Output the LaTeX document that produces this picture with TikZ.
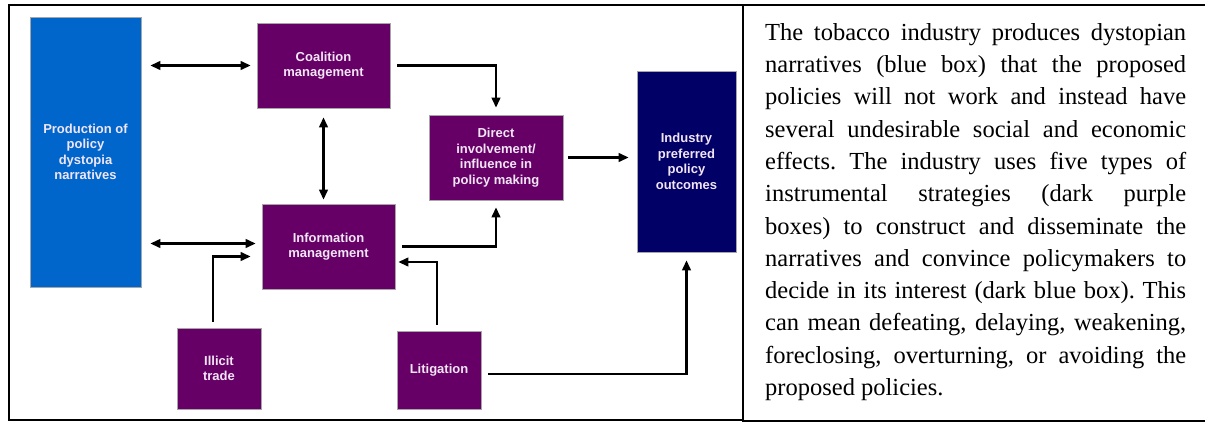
\documentclass[tikz,border=0pt]{standalone}
\usepackage{fontspec}
\setmainfont{Liberation Serif}
\newfontfamily\boxfont{Liberation Sans}
\usetikzlibrary{arrows.meta}
\definecolor{stratpurple}{RGB}{102,0,102}
\definecolor{narrblue}{RGB}{0,102,204}
\definecolor{outnavy}{RGB}{0,0,102}
\definecolor{boxtext}{RGB}{242,230,246}

\begin{document}
\begin{tikzpicture}[x=1pt,y=-1pt,
    box/.style={draw=gray!70,line width=0.6pt,text=boxtext,align=center,inner sep=0pt,
      font=\boxfont\bfseries\fontsize{13}{15.5}\selectfont},
    strat/.style={box,fill=stratpurple},
    flow/.style={line width=2.3pt,-{Triangle[length=10pt,width=8.5pt]}},
    both/.style={line width=2.3pt,{Triangle[length=10pt,width=8.5pt]}-{Triangle[length=10pt,width=8.5pt]}}]
    \useasboundingbox (0,0) rectangle (1205,423);
    \draw[line width=2.5pt] (1205,5)--(9,5)--(9,420)--(743,420);
    \draw[line width=2pt] (743,5)--(743,421)--(1205,421);

    \node[box,fill=narrblue,minimum width=111pt,minimum height=270pt] (dystopia) at (85.5,152) {Production of\\policy\\dystopia\\narratives};
    \node[strat,minimum width=133pt,minimum height=85pt] (coalition) at (323.5,65.5) {Coalition\\management};
    \node[strat,minimum width=133pt,minimum height=85pt] (info) at (328.5,246.5) {Information\\management};
    \node[strat,minimum width=134pt,minimum height=85pt] (direct) at (496,157.5) {Direct\\involvement/\\influence in\\policy making};
    \node[box,fill=outnavy,minimum width=99pt,minimum height=181pt] (outcomes) at (686.5,161.5) {Industry\\preferred\\policy\\outcomes};
    \node[strat,minimum width=84pt,minimum height=81pt] (illicit) at (219,368.5) {Illicit\\trade};
    \node[strat,minimum width=84pt,minimum height=78pt] (litigation) at (439,370) {Litigation};

    \coordinate (infoin) at ([yshift=3pt]info.west);
    \draw[both,shorten <=9pt,shorten >=6pt] (dystopia.east |- coalition.west)--(coalition.west);
    \draw[both,shorten <=9pt,shorten >=6pt] (dystopia.east |- infoin)--(infoin);
    \draw[both,shorten <=9pt,shorten >=4pt] (coalition.south)--(coalition.south |- info.north);
    \draw[flow,shorten <=6pt,shorten >=11pt] ([xshift=-6pt]illicit.north) |- ([yshift=-10pt]info.west);
    \draw[flow,shorten <=7pt,shorten >=7pt] (coalition.east) -| (direct.north);
    \draw[flow,shorten <=7pt,shorten >=7pt] (info.east) -| (direct.south);
    \draw[flow,shorten <=6pt,shorten >=3pt] ([xshift=-2pt]litigation.north) |- ([yshift=-15.5pt]info.east);
    \draw[flow,shorten <=5pt,shorten >=8pt] (direct.east)--(direct.east -| outcomes.west);
    \draw[flow,shorten <=7pt,shorten >=8pt] ([yshift=-4pt]litigation.east) -| (outcomes.south);

    \node[anchor=north west,inner sep=0pt,text width=421pt,align=justify,
      font=\fontsize{24.5}{32.3}\selectfont] (blurb) at (765,17.4) {\frenchspacing\tolerance=10000\hbadness=10000\strut
      The tobacco industry produces dystopian\linebreak
      narratives (blue box) that the proposed\linebreak
      policies will not work and instead have\linebreak
      several undesirable social and economic\linebreak
      effects. The industry uses five types of\linebreak
      instrumental strategies (dark purple\linebreak
      boxes) to construct and disseminate the\linebreak
      narratives and convince policymakers to\linebreak
      decide in its interest (dark blue box). This\linebreak
      can mean defeating, delaying, weakening,\linebreak
      foreclosing, overturning, or avoiding the\linebreak
      proposed policies.};
\end{tikzpicture}
\end{document}
